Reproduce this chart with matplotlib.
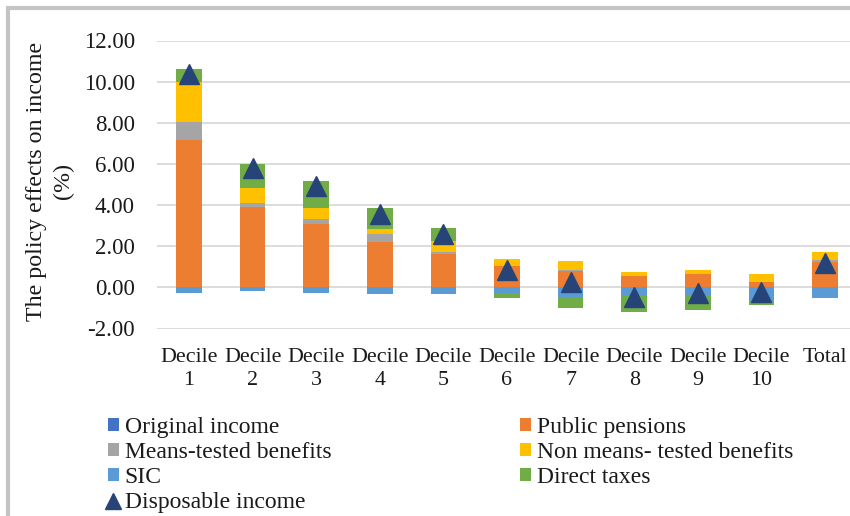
import matplotlib
matplotlib.use("Agg")
import matplotlib.pyplot as plt
import numpy as np
from matplotlib.patches import Patch, Rectangle
from matplotlib.lines import Line2D

categories = ["Decile\n1", "Decile\n2", "Decile\n3", "Decile\n4", "Decile\n5", "Decile\n6",
              "Decile\n7", "Decile\n8", "Decile\n9", "Decile\n10", "Total"]
original_income = [0.00, 0.00, 0.00, 0.00, 0.00, 0.00, 0.00, 0.00, 0.00, 0.00, 0.00]
public_pensions = [7.14, 3.90, 3.09, 2.20, 1.64, 1.03, 0.80, 0.56, 0.63, 0.26, 1.21]
means_tested = [0.92, 0.18, 0.24, 0.39, 0.07, 0.00, 0.02, 0.00, 0.00, 0.02, 0.11]
non_means_tested = [1.91, 0.77, 0.52, 0.23, 0.54, 0.33, 0.47, 0.19, 0.21, 0.39, 0.39]
sic = [-0.26, -0.18, -0.26, -0.30, -0.30, -0.34, -0.46, -0.37, -0.37, -0.65, -0.46]
direct_taxes = [0.65, 1.14, 1.33, 1.03, 0.65, -0.18, -0.56, -0.83, -0.71, -0.22, -0.04]
disposable_income = [10.36, 5.80, 4.95, 3.57, 2.59, 0.85, 0.24, -0.46, -0.25, -0.22, 1.17]
y_ticks = [-2, 0, 2, 4, 6, 8, 10, 12]

series = [
    ("Original income", original_income, "#4472C4"),
    ("Public pensions", public_pensions, "#ED7D31"),
    ("Means-tested benefits", means_tested, "#A5A5A5"),
    ("Non means- tested benefits", non_means_tested, "#FFC000"),
    ("SIC", sic, "#5B9BD5"),
    ("Direct taxes", direct_taxes, "#70AD47"),
]

plt.rcParams['font.family'] = ['Liberation Serif', 'DejaVu Serif']
TXT = "#1a1a1a"

fig = plt.figure(figsize=(8.5, 5.16), dpi=100)
W, H = 850, 516
ax = fig.add_axes([157.2 / W, (H - 328.5) / H, (856.8 - 157.2) / W, (328.5 - 40.5) / H])

x = np.arange(len(categories))
pos_bottom = np.zeros(len(categories))
neg_bottom = np.zeros(len(categories))
handles = {}
for name, vals, col in series:
    v = np.array(vals, dtype=float)
    bottom = np.where(v >= 0, pos_bottom, neg_bottom)
    ax.bar(x, v, width=0.40, bottom=bottom, color=col, zorder=2, linewidth=0)
    pos_bottom = pos_bottom + np.where(v > 0, v, 0)
    neg_bottom = neg_bottom + np.where(v < 0, v, 0)
    handles[name] = Patch(facecolor=col, edgecolor='none')

ax.plot(x, disposable_income, linestyle='none', marker='^', markersize=14,
        color="#264478", zorder=3)
handles["Disposable income"] = Line2D([], [], linestyle='none', marker='^',
                                      markersize=11, color="#264478")

ax.set_xlim(-0.5, len(categories) - 0.5)
ax.set_ylim(-2, 12)
ax.set_yticks(y_ticks)
ax.set_yticklabels([f"{t:.2f}" for t in y_ticks], fontsize=16.5, color=TXT)
ax.set_xticks(x)
ax.set_xticklabels(categories, fontsize=15.8, color=TXT, linespacing=1.3)
ax.tick_params(axis='both', length=0)
ax.tick_params(axis='y', pad=16)
ax.tick_params(axis='x', pad=14)
ax.yaxis.grid(True, color="#D9D9D9", linewidth=1.3, zorder=0)
ax.set_axisbelow(True)
for s in ax.spines.values():
    s.set_visible(False)

fig.text(50 / W, 1 - 181 / H, "The policy effects on income\n(%)", rotation=90,
         ha='center', va='center', fontsize=17.3, color=TXT, linespacing=1.4,
         multialignment='center')

col1 = ["Original income", "Means-tested benefits", "SIC", "Disposable income"]
col2 = ["Public pensions", "Non means- tested benefits", "Direct taxes"]
common = dict(frameon=False, fontsize=17, handlelength=0.46, handleheight=0.44,
              handletextpad=0.25, labelspacing=0.17, borderpad=0, borderaxespad=0,
              labelcolor=TXT)
leg1 = fig.legend([handles[n] for n in col1], col1, loc='upper left',
                  bbox_to_anchor=(108 / W, 1 - 417 / H), **common)
leg2 = fig.legend([handles[n] for n in col2], col2, loc='upper left',
                  bbox_to_anchor=(520 / W, 1 - 417 / H), **common)

fig.patches.append(Rectangle((8 / W, -0.1), 1.2, 1 - 8 / H + 0.1, transform=fig.transFigure,
                             fill=False, edgecolor="#C4C4C4", linewidth=3))

fig.savefig("out.png", dpi=100)
